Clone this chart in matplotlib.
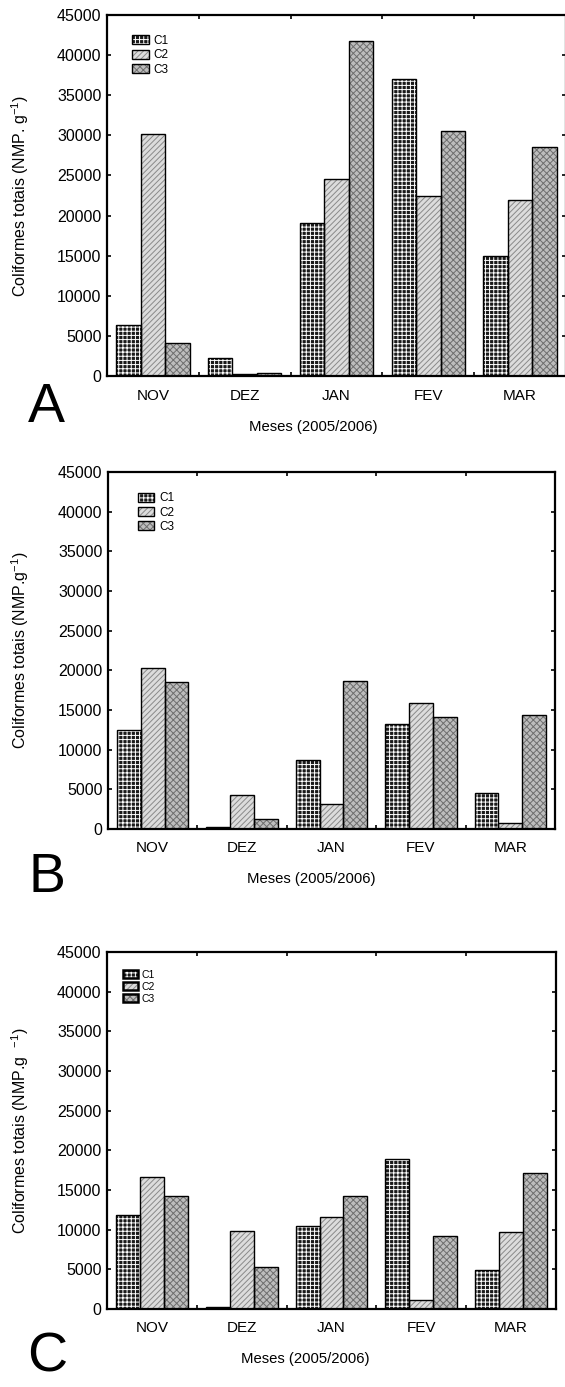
import numpy as np
import matplotlib
matplotlib.use('Agg')
import matplotlib.pyplot as plt
from matplotlib.patches import Patch
from matplotlib.legend_handler import HandlerTuple

plt.rcParams['font.family'] = ['Liberation Sans', 'DejaVu Sans']
plt.rcParams['hatch.linewidth'] = 0.7

## Dados
meses = ['NOV', 'DEZ', 'JAN', 'FEV', 'MAR']
series = ['C1', 'C2', 'C3']

a_c1 = [6400, 2200, 19100, 37000, 14900]
a_c2 = [30200, 200, 24600, 22500, 21900]
a_c3 = [4100, 400, 41700, 30600, 28600]

b_c1 = [12500, 300, 8700, 13200, 4500]
b_c2 = [20300, 4300, 3200, 15900, 750]
b_c3 = [18500, 1300, 18600, 14100, 14400]

c_c1 = [11900, 300, 10400, 18850, 4900]
c_c2 = [16600, 9800, 11600, 1100, 9700]
c_c3 = [14250, 5300, 14300, 9200, 17100]

ylabels = ['Coliformes totais (NMP. g$^{\\mathregular{-1}}$)',
           'Coliformes totais (NMP.g$^{\\mathregular{-1}}$)',
           'Coliformes totais (NMP.g  $^{\\mathregular{-1}}$)']
letras = ['A', 'B', 'C']

## estilos: (cor de fundo, hachura, cor da hachura)
estilos = [('#1a1a1a', '++++', 'white'),
           ('#dcdcdc', '//////', '#8a8a8a'),
           ('#bdbdbd', 'xxxxx', '#6e6e6e')]

W, H = 565, 1387
fig = plt.figure(figsize=(W / 100, H / 100), dpi=100)

## caixas dos eixos em pixels (esq, topo, dir, base)
caixas = [(107, 15, 566, 376), (108, 472, 555, 829), (107, 952, 556, 1309)]
legpos = [(0.055, 0.945), (0.067, 0.943), (0.036, 0.95)]
legfs = [8.5, 8.5, 7.5]
xlab_x = [313, 311, 305]
let_pos = [(46, 408), (47, 878), (47, 1358)]

dados = [(a_c1, a_c2, a_c3), (b_c1, b_c2, b_c3), (c_c1, c_c2, c_c3)]

x = np.arange(len(meses))
w = 0.8 / 3

for k in range(3):
    l, t, r, b = caixas[k]
    ax = fig.add_axes([l / W, 1 - b / H, (r - l) / W, (b - t) / H])
    handles = []
    for j in range(3):
        face, hatch, hc = estilos[j]
        pos = x - w + j * w
        ax.bar(pos, dados[k][j], w, color=face, hatch=hatch, edgecolor=hc, linewidth=0, zorder=2)
        ax.bar(pos, dados[k][j], w, fill=False, edgecolor='black', linewidth=1.0, zorder=3)
        p1 = Patch(facecolor=face, hatch=hatch, edgecolor=hc, linewidth=0)
        p2 = Patch(fill=False, edgecolor='black', linewidth=1.0 if k < 2 else 1.8)
        handles.append((p1, p2))
    ax.set_xlim(-0.5, 4.5)
    ax.set_ylim(0, 45000)
    ax.set_yticks(np.arange(0, 45001, 5000))
    ax.set_xticks(x)
    ax.set_xticklabels(meses)
    ax.set_xticks(np.arange(0.5, 4.5, 1), minor=True)
    ax.tick_params(axis='x', which='major', length=0, pad=9, labelsize=11)
    ax.tick_params(axis='x', which='minor', direction='in', length=3, width=1.2, top=True, bottom=True)
    ax.tick_params(axis='y', direction='in', length=3, width=1.2, right=True, pad=4, labelsize=11.5)
    for s in ax.spines.values():
        s.set_linewidth(1.6)
    ax.set_ylabel(ylabels[k], fontsize=11.5)
    ax.yaxis.set_label_coords(-(l - 31) / (r - l), 0.5)
    ax.text((xlab_x[k] - l) / (r - l), -(427 - 376) / 361, 'Meses (2005/2006)',
            transform=ax.transAxes, ha='center', va='center', fontsize=10.7)
    leg = ax.legend(handles, series, handler_map={tuple: HandlerTuple(ndivide=1, pad=0)},
                    loc='upper left', bbox_to_anchor=legpos[k], frameon=False,
                    fontsize=legfs[k], borderpad=0, borderaxespad=0, labelspacing=0.2,
                    handlelength=1.4, handleheight=0.8, handletextpad=0.4)
    fig.text(let_pos[k][0] / W, 1 - let_pos[k][1] / H, letras[k], fontsize=40,
             ha='center', va='center')

fig.savefig('out.png', dpi=100)
